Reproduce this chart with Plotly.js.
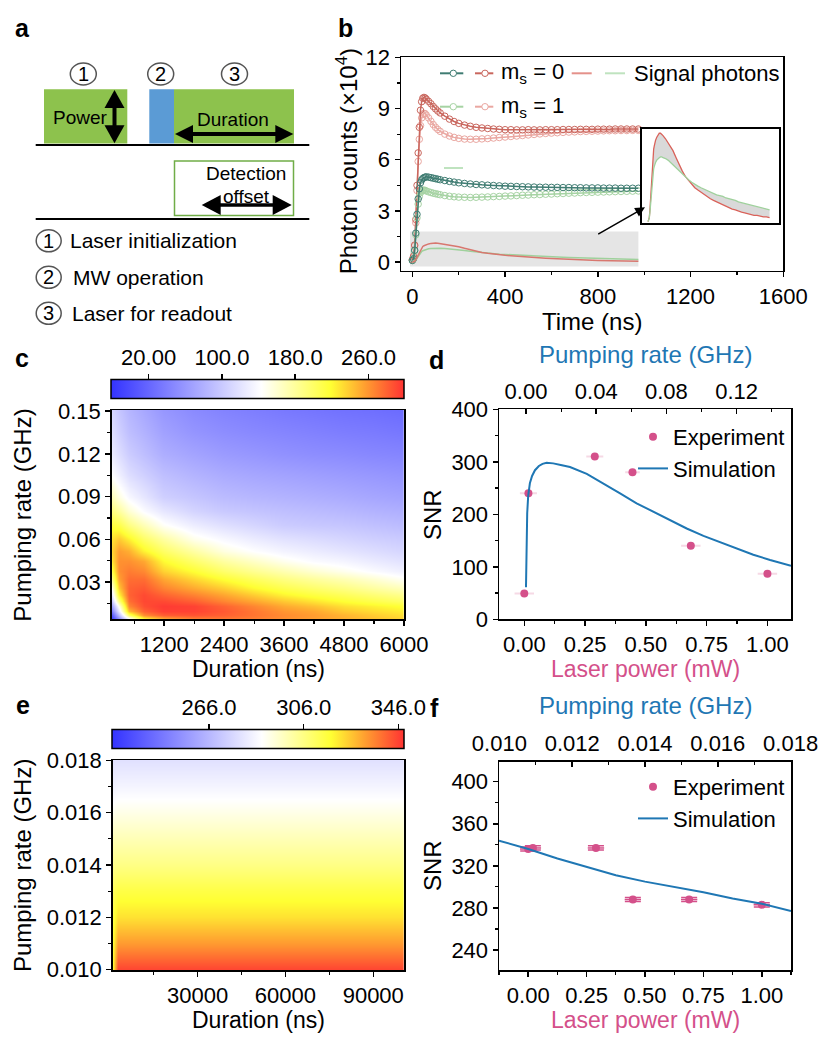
<!DOCTYPE html>
<html><head><meta charset="utf-8">
<script src="https://cdn.plot.ly/plotly-3.0.1.min.js"></script>
<style>html,body{margin:0;padding:0;background:#fff}</style>
</head><body><div id="chart" style="width:830px;height:1040px"></div>
<script>
// ---------- Panel b: photon counts vs time ----------
const tB = [0,5,10,15,20,25,30,35,40,45,50,55,60,70,80,90,100,110,120,140,160,180,200,225,250,275,300,325,350,375,400,425,450,475,500,525,550,575,600,625,650,675,700,725,750,775,800,825,850,875,900,925,950,975];
const red0 = [0.15,0.35,1.0,2.5,4.5,6.4,7.9,8.9,9.4,9.6,9.65,9.62,9.55,9.42,9.28,9.12,8.98,8.85,8.74,8.55,8.38,8.24,8.13,8.03,7.96,7.9,7.86,7.83,7.8,7.78,7.76,7.76,7.75,7.75,7.76,7.75,7.75,7.76,7.76,7.76,7.77,7.77,7.77,7.78,7.78,7.78,7.79,7.79,7.79,7.8,7.8,7.8,7.8,7.8];
const pink1 = [0.12,0.3,0.95,2.3,4.2,5.9,7.2,8.0,8.45,8.65,8.72,8.7,8.62,8.45,8.25,8.06,7.9,7.77,7.66,7.5,7.39,7.31,7.25,7.21,7.2,7.2,7.22,7.24,7.27,7.3,7.33,7.36,7.39,7.42,7.45,7.48,7.51,7.54,7.56,7.58,7.6,7.62,7.63,7.65,7.66,7.67,7.68,7.69,7.7,7.7,7.71,7.71,7.72,7.72];
const teal0 = [0.1,0.2,0.7,1.7,2.8,3.7,4.3,4.65,4.82,4.9,4.95,4.98,5.0,4.98,4.95,4.92,4.89,4.86,4.83,4.78,4.73,4.69,4.65,4.61,4.58,4.55,4.53,4.51,4.49,4.47,4.45,4.44,4.43,4.42,4.41,4.4,4.39,4.39,4.38,4.38,4.37,4.37,4.36,4.36,4.35,4.35,4.35,4.34,4.34,4.34,4.33,4.33,4.33,4.33];
const green1 = [0.1,0.2,0.65,1.6,2.6,3.4,3.85,4.07,4.17,4.21,4.22,4.2,4.17,4.12,4.08,4.04,4.01,3.98,3.95,3.9,3.86,3.83,3.81,3.8,3.79,3.8,3.81,3.82,3.84,3.85,3.87,3.88,3.9,3.92,3.93,3.95,3.96,3.98,3.99,4.01,4.02,4.04,4.05,4.07,4.08,4.09,4.1,4.11,4.12,4.13,4.14,4.15,4.16,4.17];
const sigRed = [0,0.02,0.05,0.15,0.28,0.45,0.62,0.75,0.85,0.92,0.96,1.0,1.03,1.07,1.1,1.12,1.12,1.11,1.09,1.05,1.0,0.95,0.9,0.81,0.72,0.64,0.57,0.52,0.47,0.43,0.4,0.37,0.34,0.31,0.29,0.27,0.25,0.23,0.21,0.19,0.18,0.16,0.15,0.13,0.12,0.11,0.1,0.09,0.08,0.08,0.07,0.06,0.06,0.05];
const sigGreen = [0,0.02,0.05,0.12,0.22,0.33,0.45,0.55,0.62,0.67,0.7,0.73,0.75,0.78,0.8,0.81,0.82,0.82,0.81,0.8,0.78,0.75,0.72,0.68,0.64,0.6,0.56,0.53,0.5,0.47,0.45,0.43,0.41,0.39,0.37,0.36,0.34,0.33,0.32,0.3,0.29,0.28,0.27,0.25,0.24,0.23,0.22,0.21,0.2,0.19,0.18,0.17,0.16,0.15];

// ---------- Panel c: SNR map (duration x pumping rate) ----------
const cDuration = [150,300,500,800,1200,1800,2400,3000,3600,4200,4800,5400,6000];
const cRate = [0.004,0.007,0.01,0.013,0.017,0.021,0.026,0.032,0.038,0.045,0.052,0.06,0.07,0.08,0.09,0.105,0.12,0.135,0.15];
const cSNR = [
 [-15, 50,130,215,248,266,270,268,262,256,250,243,236],
 [ 10, 90,200,262,282,286,281,273,264,257,248,239,231],
 [ 40,125,245,280,294,293,284,272,260,253,240,232,225],
 [ 70,150,265,288,296,293,280,266,252,243,231,224,217],
 [100,190,275,291,290,281,266,253,240,229,218,209,200],
 [125,220,280,290,280,268,254,239,224,214,205,195,186],
 [150,240,280,284,267,252,238,221,208,198,189,178,168],
 [185,255,276,276,253,235,218,203,190,180,171,160,147],
 [210,262,270,265,236,218,198,184,172,160,150,140,131],
 [228,262,262,253,220,198,178,164,150,140,135,127,120],
 [235,257,250,224,200,177,155,143,134,128,122,116,110],
 [230,240,225,200,178,151,138,128,120,115,110,105,101],
 [215,210,190,170,146,129,118,110,102, 99, 97, 93, 89],
 [192,180,160,141,124,109,100, 96, 92, 89, 86, 82, 79],
 [170,155,138,124,105, 97, 89, 85, 82, 79, 76, 72, 69],
 [143,132,117,106, 92, 83, 76, 72, 69, 66, 63, 60, 57],
 [128,117,103, 92, 78, 70, 63, 59, 55, 52, 50, 47, 45],
 [118,106, 92, 82, 68, 58, 52, 48, 45, 42, 39, 37, 34],
 [110, 98, 85, 74, 60, 50, 44, 40, 36, 33, 30, 28, 25]
];
const cBarTicks = [20,100,180,260];
const cBarText = ['20.00','100.0','180.0','260.0'];

// ---------- Panel d ----------
const dExpPower = [0.0,0.017,0.29,0.445,0.685,1.0];
const dExpSNR = [49,240,310,280,140,87];
const dExpErr = [0.04,0.035,0.035,0.03,0.04,0.04];
const dSimPower = [0.007,0.009,0.012,0.016,0.023,0.032,0.044,0.06,0.075,0.092,0.119,0.15,0.188,0.257,0.325,0.394,0.462,0.531,0.6,0.668,0.737,0.805,0.874,0.942,1.011,1.097];
const dSimSNR = [61,130,202,235,259,273,284,292,296,298,297,294,290,277,259,240,221,205,189,173,159,147,135,123,113,102];
const dTopTicks = [0,0.04,0.08,0.12];

// ---------- Panel e: SNR map ----------
const eDuration = [1000,2700,100000];
const eRate = [0.010,0.011,0.012,0.013,0.014,0.015,0.016,0.017,0.018];
const eSNR = [
 [318,346,346],
 [317,333,333],
 [315,322,322],
 [312,315,315],
 [305,306,306],
 [299,299,299],
 [291,292,292],
 [284,285,285],
 [279,279,279]
];
const eBarTicks = [266,306,346];
const eBarText = ['266.0','306.0','346.0'];

// ---------- Panel f ----------
const fExpPower = [0.0,0.02,0.29,0.448,0.689,1.0];
const fExpSNR = [336,337,337,288,288,283];
const fExpErrX = [0.035,0.035,0.035,0.035,0.035,0.035];
const fExpErrY = [2,2,2,2,2,2];
const fSimPower = [-0.125,0,0.125,0.25,0.375,0.5,0.625,0.75,0.875,1.0,1.125];
const fSimSNR = [344,336,327,319,311,305,300,295,289,284,277];

// ---------- helpers ----------
const W = 830, H = 1040;
const FONT = 'Arial, "Liberation Sans", Helvetica, sans-serif';
const px = v => v / W;
const py = v => 1 - v / H;
const BLUE = '#1f77b4', PINK = '#d4508a';
const CSCALE = [[0,'#3333ff'],[0.513,'#ffffff'],[0.75,'#ffff33'],[0.865,'#ffa030'],[1,'#ff3333']];

function axis(o) {
  return Object.assign({
    showline:true, linecolor:'#000', linewidth:1.5, mirror:true,
    ticks:'outside', ticklen:5, tickwidth:1.5, tickcolor:'#000',
    showgrid:false, zeroline:false, fixedrange:true,
    tickfont:{family:FONT, size:22, color:'#000'}
  }, o);
}
function minor(d, side) { return {ticks: side || 'outside', ticklen:3, tickwidth:1.2, tickcolor:'#000', dtick:d, showgrid:false}; }

function txt(x, y, text, o) {
  const base = {xref:'paper', yref:'paper', x:px(x), y:py(y), text:text, showarrow:false,
    xanchor:'center', yanchor:'middle', font:{family:FONT, size:22, color:'#000'}};
  if (o && o.font) { o.font = Object.assign({}, base.font, o.font); }
  return Object.assign(base, o || {});
}
function rectS(x0,y0,x1,y1,fill,lc,lw){ return {type:'rect', xref:'paper', yref:'paper', x0:px(x0), x1:px(x1), y0:py(y1), y1:py(y0), fillcolor:fill, line:{color:lc||fill, width:lw||0}}; }
function lineS(x0,y0,x1,y1,color,w){ return {type:'line', xref:'paper', yref:'paper', x0:px(x0), y0:py(y0), x1:px(x1), y1:py(y1), line:{color:color, width:w}}; }
function polyS(pts, fill){ return {type:'path', xref:'paper', yref:'paper', path:'M' + pts.map(p => px(p[0]).toFixed(5) + ',' + py(p[1]).toFixed(5)).join(' L') + ' Z', fillcolor:fill, line:{width:0}}; }
function circS(cx,cy,rx,ry,fill,lc,lw){ return {type:'circle', xref:'paper', yref:'paper', x0:px(cx-rx), x1:px(cx+rx), y0:py(cy+ry), y1:py(cy-ry), fillcolor:fill, line:{color:lc, width:lw}}; }
function hArrow(x0,x1,y,hl,hw,sw){ return [lineS(x0+hl-1,y,x1-hl+1,y,'#000',sw), polyS([[x0,y],[x0+hl,y-hw],[x0+hl,y+hw]],'#000'), polyS([[x1,y],[x1-hl,y-hw],[x1-hl,y+hw]],'#000')]; }
function vArrow(x,y0,y1,hl,hw,sw){ return [lineS(x,y0+hl-1,x,y1-hl+1,'#000',sw), polyS([[x,y0],[x-hw,y0+hl],[x+hw,y0+hl]],'#000'), polyS([[x,y1],[x-hw,y1-hl],[x+hw,y1-hl]],'#000')]; }

// ---------- traces ----------
function circTrace(y, color) {
  return {type:'scatter', x:tB, y:y, xaxis:'x', yaxis:'y', mode:'lines+markers', showlegend:false, hoverinfo:'skip',
    line:{color:color, width:1.5}, marker:{symbol:'circle-open', size:6.5, color:color, line:{width:1, color:color}}};
}
const empty = (xa, ya) => ({type:'scatter', x:[], y:[], xaxis:xa, yaxis:ya, showlegend:false, hoverinfo:'skip'});

const traces = [
  circTrace(pink1, '#eaa7a1'),
  circTrace(red0, '#c9665d'),
  circTrace(green1, '#a6d3a3'),
  circTrace(teal0, '#3f7c72'),
  {type:'scatter', x:tB, y:sigGreen, xaxis:'x', yaxis:'y', mode:'lines', showlegend:false, line:{color:'#9fd19c', width:1.5}},
  {type:'scatter', x:tB, y:sigRed, xaxis:'x', yaxis:'y', mode:'lines', showlegend:false, line:{color:'#d8776f', width:1.5}},
  // inset
  {type:'scatter', x:tB, y:sigRed, xaxis:'x2', yaxis:'y2', mode:'lines', showlegend:false, line:{color:'#d9625a', width:1.3}},
  {type:'scatter', x:tB, y:sigGreen, xaxis:'x2', yaxis:'y2', mode:'lines', showlegend:false, fill:'tonexty', fillcolor:'#d9d9d9', line:{color:'#9fd19c', width:1.3}},
  // panel c
  {type:'heatmap', x:cDuration, y:cRate, z:cSNR, xaxis:'x3', yaxis:'y3', colorscale:CSCALE, zmin:-20.7, zmax:299, zsmooth:'best', hoverinfo:'skip',
    colorbar:{orientation:'h', x:px(111.3), xanchor:'left', y:py(400.3), yanchor:'bottom', len:(404.3-111.3)/W, lenmode:'fraction',
      thickness:19.3, thicknessmode:'pixels', xpad:0, ypad:0, outlinewidth:1.5, outlinecolor:'#000', showticklabels:false, ticks:''}},
  empty('x4','y4'),
  // panel d
  {type:'scatter', x:dExpPower, y:dExpSNR, xaxis:'x5', yaxis:'y5', mode:'markers', name:'Experiment', legend:'legend',
    marker:{size:8, color:PINK}, error_x:{type:'data', array:dExpErr, color:'rgba(212,80,138,0.22)', thickness:2, width:0}},
  {type:'scatter', x:dSimPower, y:dSimSNR, xaxis:'x5', yaxis:'y5', mode:'lines', name:'Simulation', legend:'legend',
    line:{color:BLUE, width:2}},
  empty('x6','y5'),
  // panel e
  {type:'heatmap', x:eDuration, y:eRate, z:eSNR, xaxis:'x7', yaxis:'y7', colorscale:CSCALE, zmin:225.1, zmax:348.5, zsmooth:'best', hoverinfo:'skip',
    colorbar:{orientation:'h', x:px(112.3), xanchor:'left', y:py(750), yanchor:'bottom', len:(404.3-112.3)/W, lenmode:'fraction',
      thickness:19, thicknessmode:'pixels', xpad:0, ypad:0, outlinewidth:1.5, outlinecolor:'#000', showticklabels:false, ticks:''}},
  empty('x8','y8'),
  // panel f
  {type:'scatter', x:fExpPower, y:fExpSNR, xaxis:'x9', yaxis:'y9', mode:'markers', name:'Experiment', legend:'legend2',
    marker:{size:8, color:PINK},
    error_x:{type:'data', array:fExpErrX, color:PINK, thickness:1.5, width:0},
    error_y:{type:'data', array:fExpErrY, color:PINK, thickness:1.5, width:8}},
  {type:'scatter', x:fSimPower, y:fSimSNR, xaxis:'x9', yaxis:'y9', mode:'lines', name:'Simulation', legend:'legend2',
    line:{color:BLUE, width:2}},
  empty('x10','y9')
];

// ---------- shapes ----------
const GREEN = '#8dc24d';
let shapes = [
  // panel a
  rectS(44,89.3,127.3,143.5,GREEN),
  rectS(149.3,89.3,174,143.5,'#5b9bd5'),
  rectS(174,89.3,294,143.5,GREEN),
  lineS(35.7,145,309.3,145,'#000',2),
  rectS(174.5,161,293.5,215.5,'#ffffff','#70ad47',1.5),
  lineS(35.7,219,309.3,219,'#000',2),
  ...vArrow(114.5,90,143.3,18,10,4),
  ...hArrow(175,293.3,134,18,9,4),
  ...hArrow(201.7,291.7,205,19,10,3.5),
  circS(83.3,74,13,11,'#fff','#555',1.5),
  circS(160.7,74,13,11,'#fff','#555',1.5),
  circS(234.5,74,13,11,'#fff','#555',1.5),
  circS(48.7,240.8,12.5,11,'#fff','#555',1.5),
  circS(48.7,277.3,12.5,11,'#fff','#555',1.5),
  circS(48.7,313.3,12.5,11,'#fff','#555',1.5),
  // panel b gray region
  {type:'rect', xref:'x', yref:'y', x0:-10, x1:975, y0:-0.25, y1:1.8, fillcolor:'#e5e5e5', line:{width:0}, layer:'below'},
  // panel b legend samples
  lineS(440,73.3,463.3,73.3,'#3f7c72',2), circS(453.3,73.3,3.2,3.2,'#fff','#3f7c72',1),
  lineS(475,73.3,493.3,73.3,'#c9665d',2), circS(485,73.3,3.2,3.2,'#fff','#c9665d',1),
  lineS(571.7,73.3,591.7,73.3,'#e4918a',2),
  lineS(605,73.3,625,73.3,'#bfe3bf',2),
  lineS(440,106.7,463.3,106.7,'#a6d3a3',2), circS(453.3,106.7,3.2,3.2,'#fff','#a6d3a3',1),
  lineS(475,106.7,493.3,106.7,'#eaa7a1',2), circS(485,106.7,3.2,3.2,'#fff','#eaa7a1',1),
  lineS(444,168,463,168,'#bfe3bf',2)
];

// ---------- annotations ----------
const annotations = [
  txt(22,28,'<b>a</b>',{font:{size:25}}),
  txt(345.5,28,'<b>b</b>',{font:{size:25}}),
  txt(21.7,358,'<b>c</b>',{font:{size:25}}),
  txt(436.7,359.6,'<b>d</b>',{font:{size:25}}),
  txt(22.7,704.6,'<b>e</b>',{font:{size:25}}),
  txt(434.5,708,'<b>f</b>',{font:{size:25}}),
  // panel a
  txt(83.3,74,'1',{font:{size:20}}), txt(160.7,74,'2',{font:{size:20}}), txt(234.5,74,'3',{font:{size:20}}),
  txt(48.7,240.8,'1',{font:{size:20}}), txt(48.7,277.3,'2',{font:{size:20}}), txt(48.7,313.3,'3',{font:{size:20}}),
  txt(80,117.5,'Power',{font:{size:19}}),
  txt(233,119,'Duration',{font:{size:19}}),
  txt(245.5,174,'Detection',{font:{size:19}}),
  txt(246.3,196,'offset',{font:{size:19}}),
  txt(68,240.8,'Laser initialization',{xanchor:'left', font:{size:21}}),
  txt(70.7,277.3,'MW operation',{xanchor:'left', font:{size:21}}),
  txt(69.7,313.3,'Laser for readout',{xanchor:'left', font:{size:21}}),
  // panel b
  txt(346.7,161.5,'Photon counts (×10<sup>4</sup>)',{textangle:-90, font:{size:24}}),
  txt(591.7,321,'Time (ns)',{font:{size:24}}),
  txt(499,73.3,'m<sub>s</sub> = 0',{xanchor:'left'}),
  txt(499,106.7,'m<sub>s</sub> = 1',{xanchor:'left'}),
  txt(632,73.3,'Signal photons',{xanchor:'left'}),
  {xref:'paper', yref:'paper', x:px(645), y:py(207.3), ax:-48.3, ay:27.7, axref:'pixel', ayref:'pixel', text:'', showarrow:true,
    arrowhead:2, arrowsize:1.3, arrowwidth:1.5, arrowcolor:'#000'},
  // panel c
  txt(21.7,515,'Pumping rate (GHz)',{textangle:-90, font:{size:24}}),
  txt(258,669,'Duration (ns)',{font:{size:23}}),
  // panel d
  txt(645.8,354,'Pumping rate (GHz)',{font:{size:24, color:BLUE}}),
  txt(432,515,'SNR',{textangle:-90, font:{size:24}}),
  txt(645.8,669,'Laser power (mW)',{font:{size:23, color:PINK}}),
  // panel e
  txt(22,866,'Pumping rate (GHz)',{textangle:-90, font:{size:24}}),
  txt(258,1020,'Duration (ns)',{font:{size:23}}),
  // panel f
  txt(645.8,705.5,'Pumping rate (GHz)',{font:{size:24, color:BLUE}}),
  txt(432,866,'SNR',{textangle:-90, font:{size:24}}),
  txt(645.8,1020,'Laser power (mW)',{font:{size:23, color:PINK}})
];

// ---------- layout ----------
const legendBase = {xanchor:'left', yanchor:'top', bgcolor:'rgba(0,0,0,0)', borderwidth:0, traceorder:'normal',
  font:{family:FONT, size:22, color:'#000'}, tracegroupgap:0, itemwidth:30};

const layout = {
  width:W, height:H, margin:{l:0, r:0, t:0, b:0},
  paper_bgcolor:'#fff', plot_bgcolor:'#fff',
  font:{family:FONT, size:22, color:'#000'},
  showlegend:true,
  legend:Object.assign({x:px(633), y:py(416)}, legendBase),
  legend2:Object.assign({x:px(633), y:py(766)}, legendBase),
  // b
  xaxis:axis({domain:[px(401),px(783.3)], range:[-49,1600], anchor:'y', tick0:0, dtick:400, minor:minor(200)}),
  yaxis:axis({domain:[py(270.7),py(57.3)], range:[-0.5,12], anchor:'x', tick0:0, dtick:3, minor:minor(1.5)}),
  // inset
  xaxis2:axis({domain:[px(641.7),px(779.3)], range:[-51,1053], anchor:'y2', ticks:'', showticklabels:false, linewidth:2}),
  yaxis2:axis({domain:[py(222.7),py(129.3)], range:[-0.013,1.17], anchor:'x2', ticks:'', showticklabels:false, linewidth:2}),
  // c
  xaxis3:axis({domain:[px(111.7),px(404)], range:[150,6000], anchor:'y3', tick0:0, dtick:1200, minor:minor(600)}),
  yaxis3:axis({domain:[py(619.3),py(410)], range:[0.004,0.1507], anchor:'x3', tick0:0, dtick:0.03, tickformat:'.2f', minor:minor(0.015)}),
  xaxis4:axis({domain:[px(111.3),px(404.3)], range:[-20.7,299], anchor:'y4', side:'top', showline:false, mirror:false,
    tickvals:cBarTicks, ticktext:cBarText, ticklen:6}),
  yaxis4:{domain:[py(400.3),py(381)], range:[0,1], anchor:'x4', visible:false, fixedrange:true},
  // d
  xaxis5:axis({domain:[px(499),px(791)], range:[-0.104,1.097], anchor:'y5', tick0:0, dtick:0.25, tickformat:'.2f', minor:minor(0.125)}),
  yaxis5:axis({domain:[py(619.3),py(409.3)], range:[0,400], anchor:'x5', tick0:0, dtick:100, minor:minor(50)}),
  xaxis6:axis({overlaying:'x5', anchor:'y5', side:'top', range:[-0.0154,0.151], tickvals:dTopTicks, tickformat:'.2f',
    ticks:'inside', mirror:false, minor:minor(0.02,'inside')}),
  // e
  xaxis7:axis({domain:[px(112.7),px(404)], range:[1000,100500], anchor:'y7', tick0:0, dtick:30000, tickformat:'d', minor:minor(15000)}),
  yaxis7:axis({domain:[py(970),py(760)], range:[0.00999,0.01801], anchor:'x7', tick0:0, dtick:0.002, tickformat:'.3f', minor:minor(0.001)}),
  xaxis8:axis({domain:[px(112.3),px(404.3)], range:[225.1,348.5], anchor:'y8', side:'top', showline:false, mirror:false,
    tickvals:eBarTicks, ticktext:eBarText, ticklen:6}),
  yaxis8:{domain:[py(750),py(731)], range:[0,1], anchor:'x8', visible:false, fixedrange:true},
  // f
  xaxis9:axis({domain:[px(499),px(791)], range:[-0.125,1.125], anchor:'y9', tick0:0, dtick:0.25, tickformat:'.2f', minor:minor(0.125)}),
  yaxis9:axis({domain:[py(970),py(761.7)], range:[221,419], anchor:'x9', tick0:0, dtick:40, minor:minor(20)}),
  xaxis10:axis({overlaying:'x9', anchor:'y9', side:'top', range:[0.00999,0.01801], tick0:0, dtick:0.002, tickformat:'.3f',
    ticks:'inside', mirror:false, minor:minor(0.001,'inside')}),
  shapes:shapes,
  annotations:annotations
};

Plotly.newPlot('chart', traces, layout, {staticPlot:true, displayModeBar:false});
</script></body></html>
